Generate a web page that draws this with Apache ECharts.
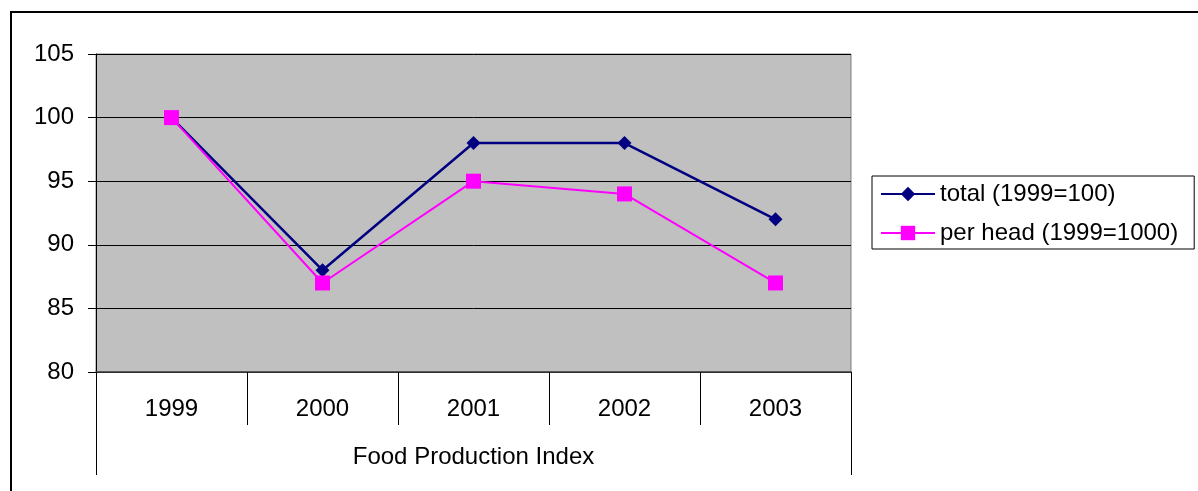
<!DOCTYPE html>
<html>
<head>
<meta charset="utf-8">
<script src="https://cdn.jsdelivr.net/npm/echarts@6/dist/echarts.min.js"></script>
<style>
  html, body { margin: 0; padding: 0; background: #fff; }
  #chart { width: 1198px; height: 491px; }
</style>
</head>
<body>
<div id="chart"></div>
<script>
// Food production index, 1999 = 100
const years = ['1999', '2000', '2001', '2002', '2003'];
const totalIndex = [100, 88, 98, 98, 92];
const perHeadIndex = [100, 87, 95, 94, 87];
const yTicks = { min: 80, max: 105, interval: 5 };
const seriesNames = ['total (1999=100)', 'per head (1999=1000)'];
const axisTitle = 'Food Production Index';

const FONT = '"Liberation Sans", Arial, sans-serif';
const FS = 24;
const chart = echarts.init(document.getElementById('chart'), null, { renderer: 'canvas' });

chart.setOption({
  backgroundColor: '#ffffff',
  animation: false,
  textStyle: { fontFamily: FONT, color: '#000' },
  graphic: [{
    type: 'rect',
    shape: { x: 11, y: 12, width: 1400, height: 700 },
    style: { fill: 'none', stroke: '#000', lineWidth: 2 },
    silent: true
  }],
  grid: {
    left: 96, top: 54, right: 347, bottom: 119,
    show: true,
    backgroundColor: '#c0c0c0',
    borderColor: '#808080',
    borderWidth: 1
  },
  legend: {
    orient: 'vertical',
    left: 872, top: 176,
    padding: [6, 16, 4, 8],
    itemGap: 15,
    itemWidth: 54,
    itemHeight: 18,
    borderColor: '#000',
    borderWidth: 1,
    backgroundColor: '#fff',
    textStyle: { fontFamily: FONT, fontSize: FS, color: '#000' },
    data: seriesNames
  },
  xAxis: [{
    type: 'category',
    data: years,
    boundaryGap: true,
    axisLine: { show: true, lineStyle: { color: '#404040', width: 1.5 } },
    axisTick: { show: true, interval: 0, length: 53, lineStyle: { color: '#000' } },
    axisLabel: { margin: 25, fontSize: FS, color: '#000', fontFamily: FONT },
    splitLine: { show: false }
  }, {
    type: 'category',
    data: [''],
    position: 'bottom',
    boundaryGap: true,
    axisLine: { show: false },
    axisTick: { show: true, length: 103, lineStyle: { color: '#000' } },
    axisLabel: { show: false },
    name: axisTitle,
    nameLocation: 'middle',
    nameGap: 73,
    nameTextStyle: { fontSize: FS, color: '#000', fontFamily: FONT }
  }],
  yAxis: {
    type: 'value',
    min: yTicks.min, max: yTicks.max, interval: yTicks.interval,
    axisLine: { show: true, lineStyle: { color: '#000', width: 1 } },
    axisTick: { show: true, length: 8, lineStyle: { color: '#000' } },
    axisLabel: { margin: 22, fontSize: FS, color: '#000', fontFamily: FONT },
    splitLine: { show: true, lineStyle: { color: '#000', width: 1 } }
  },
  series: [{
    name: seriesNames[0],
    type: 'line',
    data: totalIndex,
    symbol: 'diamond',
    symbolSize: 14,
    itemStyle: { color: '#000080' },
    lineStyle: { color: '#000080', width: 2.5 },
    z: 3
  }, {
    name: seriesNames[1],
    type: 'line',
    data: perHeadIndex,
    symbol: 'rect',
    symbolSize: 15,
    itemStyle: { color: '#ff00ff' },
    lineStyle: { color: '#ff00ff', width: 2 },
    z: 4
  }]
});
</script>
</body>
</html>
